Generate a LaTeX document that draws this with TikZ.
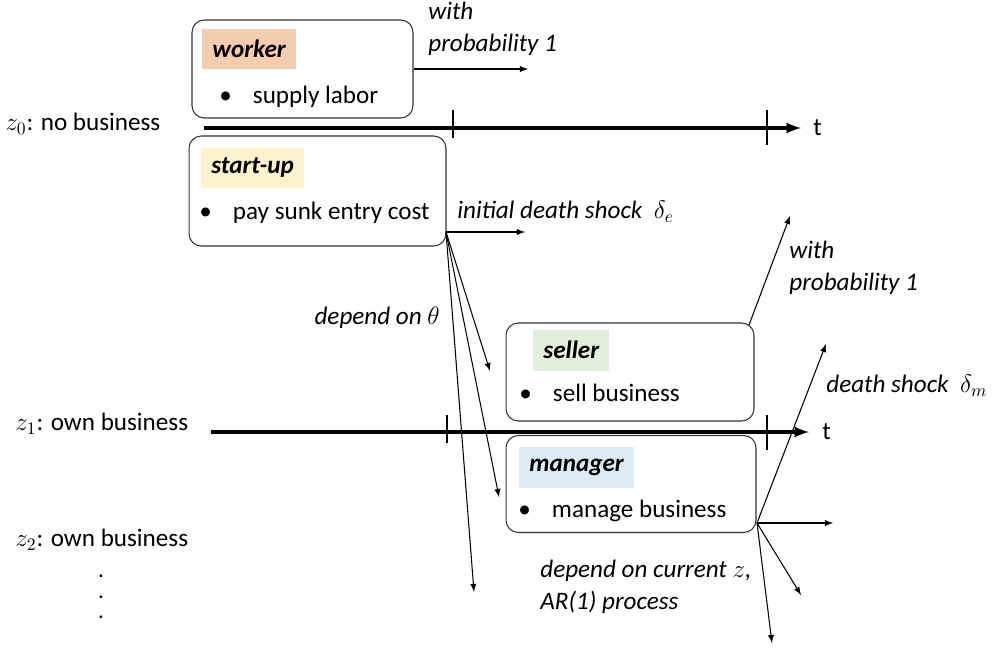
\documentclass[tikz,border=0pt]{standalone}
\usepackage{fontspec}
\usepackage{amsmath}
\setmainfont{Carlito}

\definecolor{workerfill}{HTML}{F4CCB0}
\definecolor{startupfill}{HTML}{FFF2CC}
\definecolor{sellerfill}{HTML}{E2EFDA}
\definecolor{managerfill}{HTML}{DEEAF6}

\begin{document}
\begin{tikzpicture}[
    x=0.02cm, y=-0.02cm,
    every node/.style={font=\fontsize{14.3}{18}\selectfont, inner sep=0pt},
    state/.style={rectangle, draw=black!80, line width=0.6pt, rounded corners=7pt},
    header/.style={rectangle, anchor=west, minimum height=0.82cm, inner xsep=5.7pt, font=\fontsize{14.3}{18}\selectfont\bfseries\itshape},
    item/.style={anchor=west},
    note/.style={anchor=west, align=left, font=\fontsize{14.3}{18}\selectfont\itshape},
    arrow/.style={-latex, line width=0.6pt},
    axis/.style={-latex, line width=1.8pt},
    tickmark/.style={line width=1.5pt}
]
\useasboundingbox (0,0) rectangle (997,649);

% Cajas de estado
\node[state, minimum width=4.42cm, minimum height=1.96cm] (worker) at (302.5,69) {};
\node[state, minimum width=5.14cm, minimum height=2.2cm] (startup) at (317.5,191) {};
\node[state, minimum width=4.96cm, minimum height=1.96cm] (seller) at (630,372) {};
\node[state, minimum width=5.0cm, minimum height=1.94cm] (manager) at (631,484) {};

% Titulos y contenido
\node[header, fill=workerfill] (hworker) at (202,49) {worker};
\node[header, fill=startupfill] (hstartup) at (201,168) {start-up};
\node[header, fill=sellerfill] (hseller) at (533,350) {seller};
\node[header, fill=managerfill] (hmanager) at (519,467) {manager};

\node[item] (iworker) at (219,97) {\textbullet\hspace{12pt}supply labor};
\node[item] (istartup) at (199,213) {\textbullet\hspace{12pt}pay sunk entry cost};
\node[item] (iseller) at (519,393) {\textbullet\hspace{12pt}sell business};
\node[item] (imanager) at (518,511) {\textbullet\hspace{12pt}manage business};

% Estados z
\node[anchor=west] (z0) at (5,124) {$z_0$: no business};
\node[anchor=west] (z1) at (15,424) {$z_1$: own business};
\node[anchor=west] (z2) at (15,540) {$z_2$: own business};
\node[align=center, font=\fontsize{13}{11.6}\selectfont] (dots) at (101,597) {.\\.\\.};

% Ejes de tiempo
\coordinate (axisA) at (204,128);
\coordinate (axisAend) at (801,128);
\coordinate (axisB) at (211,432);
\coordinate (axisBend) at (809,432);
\draw[axis] (axisA) -- (axisAend);
\draw[axis] (axisB) -- (axisBend);
\foreach \x/\a/\b in {453/110/138, 767/110/145, 447/415/443, 767/415/450}
    \draw[tickmark] (\x,\a) -- (\x,\b);
\node[anchor=west] (tA) at (813,128) {t};
\node[anchor=west] (tB) at (822,432) {t};

% Puntos de salida
\coordinate (wend) at (528,69);
\coordinate (sfork) at (446,232);
\coordinate (dend) at (525,232);
\coordinate (toseller) at (490,371);
\coordinate (tomanager) at (499,497);
\coordinate (tolow) at (474,592);
\coordinate (sstart) at (749,325);
\coordinate (send) at (790,216);
\coordinate (mfork) at (757,523);
\coordinate (mdeath) at (826,344);
\coordinate (mright) at (833,523);
\coordinate (mmid) at (801,595);
\coordinate (mlow) at (772,643);

% Flechas
\draw[arrow] (worker.east) -- (wend);
\draw[arrow] (sfork) -- (dend);
\draw[arrow] (sfork) -- (toseller);
\draw[arrow] (sfork) -- (tomanager);
\draw[arrow] (sfork) -- (tolow);
\draw[arrow] (sstart) -- (send);
\draw[arrow] (mfork) -- (mdeath);
\draw[arrow] (mfork) -- (mright);
\draw[arrow] (mfork) -- (mmid);
\draw[arrow] (mfork) -- (mlow);

% Etiquetas
\node[note] (prob1) at (428,29) {with\\probability 1};
\node[note] (initdeath) at (457,212) {initial death shock~ $\delta_e$};
\node[note, anchor=east] (dtheta) at (440,318) {depend on $\theta$};
\node[note] (prob2) at (789,268) {with\\probability 1};
\node[note] (death) at (826,386) {death shock~ $\delta_m$};
\node[note] (dcurrent) at (540,587) {depend on current $z$,\\AR(1) process};

\end{tikzpicture}
\end{document}
